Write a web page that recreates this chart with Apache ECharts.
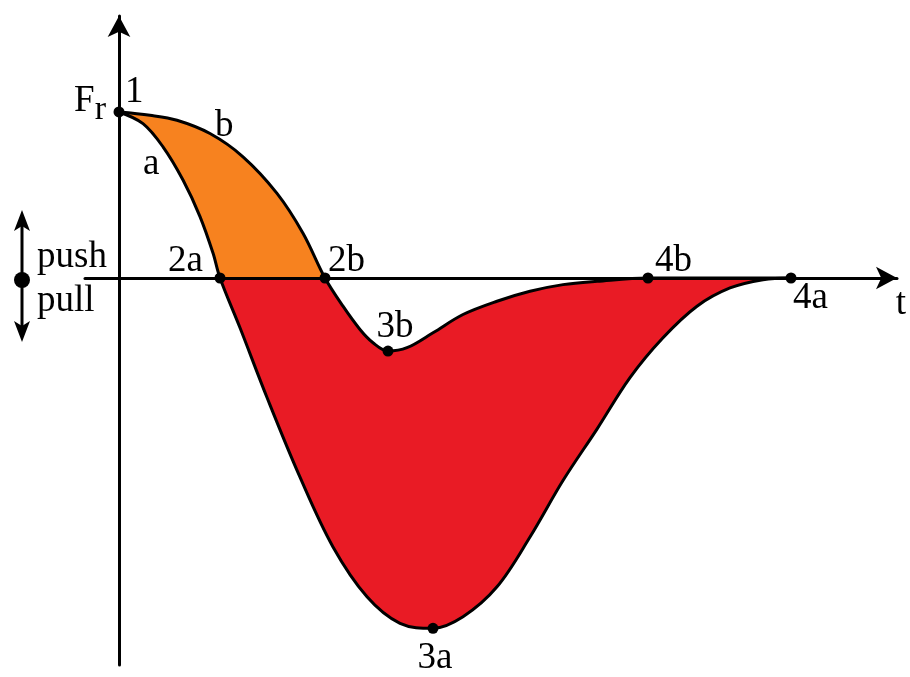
<!DOCTYPE html>
<html><head><meta charset="utf-8">
<script src="https://cdn.jsdelivr.net/npm/echarts@6/dist/echarts.min.js"></script>
<style>html,body{margin:0;padding:0;background:#fff}#c{width:910px;height:677px}</style>
</head><body><div id="c"></div>
<script>
// ---- data (time t, force relative to Fr) ----
const curveA = [[0,1.00],[0.24,0.93],[0.44,0.79],[0.64,0.59],[0.81,0.37],[0.94,0.15],[1.01,0],
  [1.21,-0.30],[1.48,-0.72],[1.81,-1.20],[2.14,-1.62],[2.48,-1.92],[2.81,-2.08],[3.14,-2.11],
  [3.44,-2.04],[3.78,-1.86],[4.11,-1.56],[4.44,-1.22],[4.78,-0.91],[5.11,-0.60],[5.44,-0.36],
  [5.78,-0.17],[6.11,-0.06],[6.44,-0.01],[6.72,0]];
const curveB = [[0,1.00],[0.31,0.98],[0.58,0.95],[0.91,0.87],[1.24,0.73],[1.58,0.51],[1.84,0.27],[2.06,0],
  [2.24,-0.17],[2.41,-0.31],[2.54,-0.39],[2.69,-0.44],[2.88,-0.42],[3.14,-0.33],[3.44,-0.22],
  [3.78,-0.14],[4.11,-0.08],[4.44,-0.04],[4.78,-0.02],[5.29,0],[6.72,0]];
const keyPointNames = ['1','2a','2b','3b','3a','4b','4a'];
const keyPointT     = [0, 1.01, 2.06, 2.69, 3.14, 5.29, 6.72];
const keyPointF     = [1, 0, 0, -0.44, -2.11, 0, 0];
const curveNames = ['a','b'];
const axisNameT = 't';
const forceName = ['F','r'];
const directionNames = ['push','pull'];

// ---- styling ----
const SERIF = 'Liberation Serif';
const FS = 37;
const SMOOTH = 0.35;
const ORANGE = '#F7821F', RED = '#E91B25';
const idx = (arr, t) => arr.findIndex(p => p[0] === t);
const a0 = idx(curveA, keyPointT[1]);           // 2a
const b0 = idx(curveB, keyPointT[2]);           // 2b
const b4 = idx(curveB, keyPointT[5]);           // 4b

const keyLabel = {
  '1':  {align:'left',   offset:[6,-20]},
  '2a': {align:'right',  offset:[-17,-17]},
  '2b': {align:'left',   offset:[3,-17]},
  '3b': {align:'center', offset:[7,-24]},
  '3a': {align:'center', offset:[2,30]},
  '4b': {align:'left',   offset:[7,-17]},
  '4a': {align:'left',   offset:[2,20]}
};
const txt = {color:'#000', fontFamily:SERIF, fontSize:FS, fontWeight:'normal'};

function areaSeries(data, color, z){
  return {type:'line', data:data, smooth:SMOOTH, symbol:'none', silent:true, z:z,
    lineStyle:{width:0, opacity:0}, areaStyle:{color:color, opacity:1, origin:0}};
}
function curveSeries(data, labels){
  return {type:'line', silent:true, z:5, smooth:SMOOTH, showSymbol:true, symbolSize:0,
    lineStyle:{color:'#000', width:3},
    label:Object.assign({show:false, position:'inside', verticalAlign:'middle'}, txt),
    data:data.map((p,i)=> labels[i] ? {value:p, label:labels[i]} : {value:p})};
}

const labelsA = {};
labelsA[0] = {show:true, align:'right', verticalAlign:'top', offset:[-13,-29],
  formatter:'{F|' + forceName[0] + '}{r|' + forceName[1] + '}',
  rich:{F:Object.assign({verticalAlign:'top', lineHeight:FS}, txt),
        r:Object.assign({verticalAlign:'top', lineHeight:FS, padding:[10,0,0,0]}, txt, {fontSize:34})}};
labelsA[2] = {show:true, align:'left', offset:[-20,17], formatter:curveNames[0]};
const labelsB = {};
labelsB[3] = {show:true, align:'left', offset:[5,-7], formatter:curveNames[1]};

const option = {
  animation:false,
  backgroundColor:'#fff',
  textStyle:{fontFamily:SERIF},
  grid:{left:85, right:13, top:16, bottom:12},
  xAxis:{type:'value', min:-0.34, max:7.78, z:4,
    axisLine:{onZero:true, symbol:['none','arrow'], symbolSize:[17,21], lineStyle:{color:'#000', width:3}},
    axisTick:{show:false}, axisLabel:{show:false}, splitLine:{show:false},
    name:axisNameT, nameLocation:'end', nameGap:4,
    nameTextStyle:Object.assign({align:'center', verticalAlign:'top', padding:[8,0,0,0]}, txt)},
  yAxis:{type:'value', min:-2.331, max:1.578, z:4,
    axisLine:{onZero:true, symbol:['none','arrow'], symbolSize:[17,21], lineStyle:{color:'#000', width:3}},
    axisTick:{show:false}, axisLabel:{show:false}, splitLine:{show:false}},
  series:[
    areaSeries(curveB.slice(0, b0+1), ORANGE, 1),
    areaSeries(curveA.slice(a0), RED, 1),
    areaSeries(curveA.slice(0, a0+1), '#fff', 2),
    areaSeries(curveB.slice(b0, b4+1), '#fff', 2),
    curveSeries(curveA, labelsA),
    curveSeries(curveB, labelsB),
    {type:'scatter', silent:true, z:6, symbolSize:11, itemStyle:{color:'#000', opacity:1},
     label:Object.assign({show:true, position:'inside', verticalAlign:'middle', formatter:'{b}'}, txt),
     data:keyPointNames.map((n,i)=>({name:n, value:[keyPointT[i], keyPointF[i]], label:keyLabel[n]}))}
  ],
  graphic:[
    {type:'line', shape:{x1:22, y1:222, x2:22, y2:330}, style:{stroke:'#000', lineWidth:3}},
    {type:'polygon', shape:{points:[[22,210],[30,231],[22,226],[14,231]]}, style:{fill:'#000'}},
    {type:'polygon', shape:{points:[[22,342],[30,321],[22,326],[14,321]]}, style:{fill:'#000'}},
    {type:'circle', shape:{cx:22, cy:280, r:8}, style:{fill:'#000'}},
    {type:'text', x:37, y:257, style:{text:directionNames[0], fill:'#000', fontSize:FS, fontFamily:SERIF, verticalAlign:'middle'}},
    {type:'text', x:37, y:301, style:{text:directionNames[1], fill:'#000', fontSize:FS, fontFamily:SERIF, verticalAlign:'middle'}}
  ]
};
echarts.init(document.getElementById('c')).setOption(option);
</script></body></html>
